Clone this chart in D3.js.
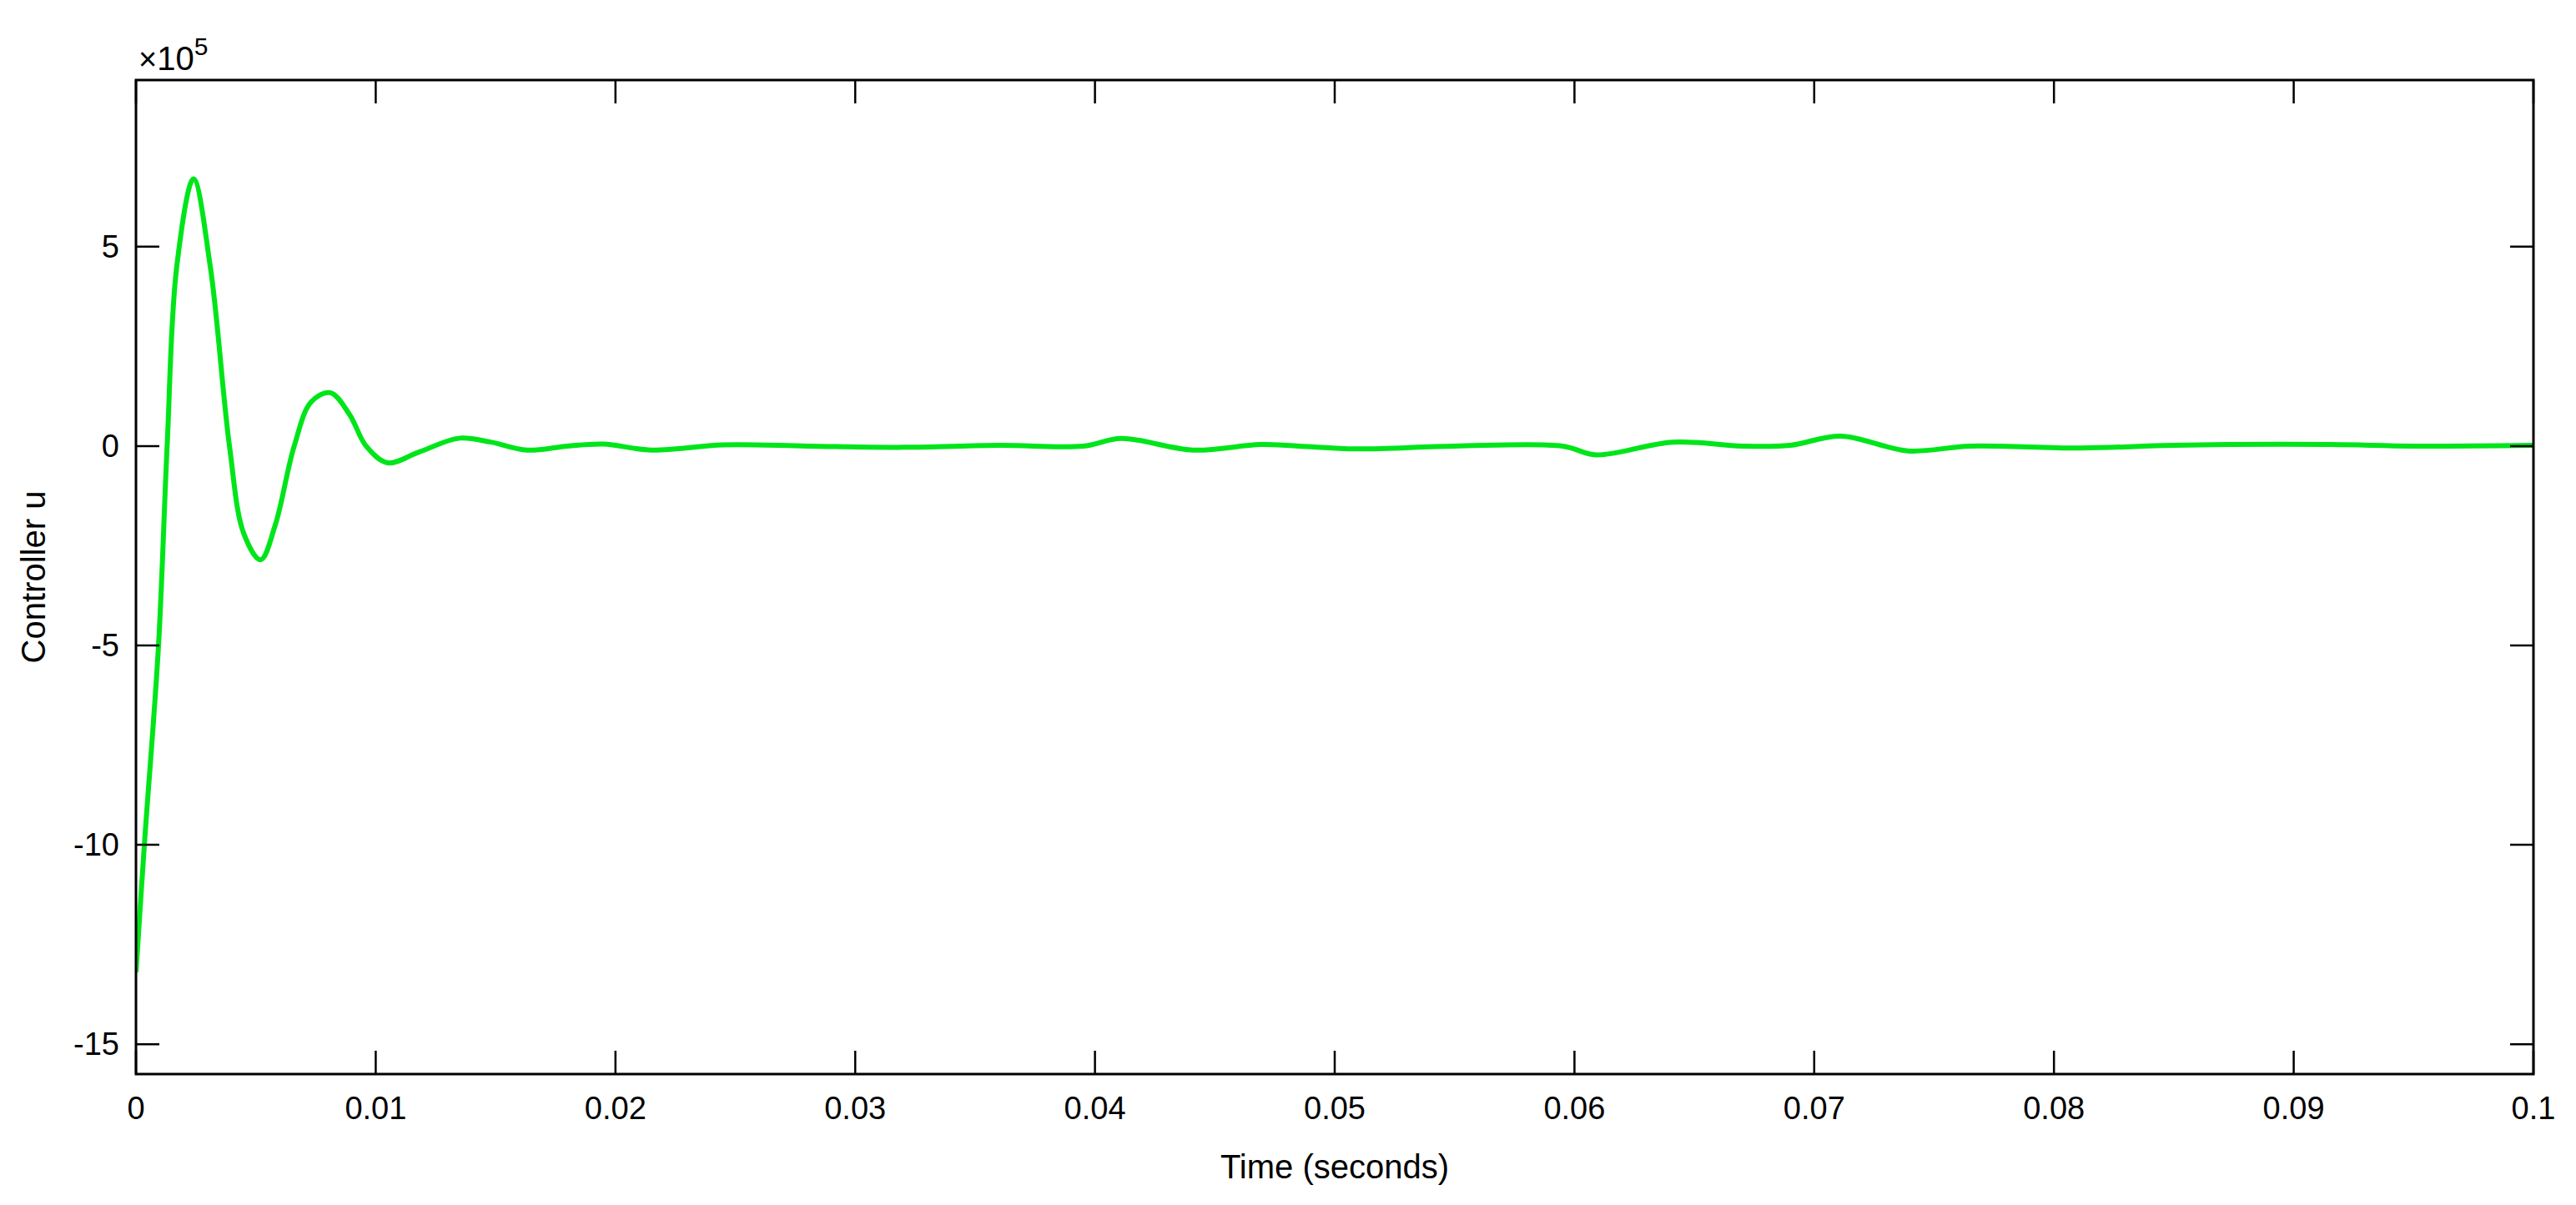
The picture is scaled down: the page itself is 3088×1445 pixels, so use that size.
<!DOCTYPE html>
<html>
<head>
<meta charset="utf-8">
<script src="https://cdn.jsdelivr.net/npm/d3@7"></script>
<style>
  body { margin: 0; background: #fff; }
  text { font-family: "Liberation Sans", Arial, sans-serif; fill: #000; }
</style>
</head>
<body>
<script>
// time in seconds, controller output in units of 1e5
var timeVals = [0, 0.00035, 0.00094, 0.0013, 0.0017, 0.0024, 0.0031, 0.0039, 0.0045, 0.0052,
  0.0058, 0.0066, 0.0073, 0.0081, 0.0089, 0.0096, 0.0105, 0.0118, 0.0135, 0.0148,
  0.0163, 0.018, 0.0195, 0.0215, 0.0245, 0.028, 0.032, 0.036, 0.0395, 0.0411,
  0.0441, 0.0469, 0.0485, 0.0509, 0.055, 0.0595, 0.0609, 0.0641, 0.067, 0.069,
  0.0711, 0.0739, 0.0765, 0.0811, 0.085, 0.0913, 0.095, 0.1];
var uVals = [-13.2, -10, -5, 0, 4.5, 6.7, 4.5, 0, -2.2, -2.85,
  -2.0, 0, 1.1, 1.34, 0.8, 0, -0.42, -0.15, 0.2, 0.1,
  -0.1, 0, 0.05, -0.1, 0.03, 0, -0.03, 0.02, 0, 0.19,
  -0.1, 0.04, 0, -0.07, 0, 0, -0.22, 0.1, 0, 0.02,
  0.25, -0.12, 0, -0.05, 0.02, 0.04, 0, 0.02];
var xTicks = [0, 0.01, 0.02, 0.03, 0.04, 0.05, 0.06, 0.07, 0.08, 0.09, 0.1];
var yTicks = [-15, -10, -5, 0, 5];

var W = 3088, H = 1445;
var pLeft = 163, pRight = 3037, pTop = 96, pBottom = 1288;
var tickLen = 28;

var x = d3.scaleLinear().domain([0, 0.1]).range([pLeft, pRight]);
var y = d3.scaleLinear().domain([-15.75, 9.18]).range([pBottom, pTop]);

var svg = d3.select("body").append("svg")
  .attr("width", W).attr("height", H);

var data = timeVals.map(function(t, i){ return {t: t, u: uVals[i]}; });

// clip the line to the axes box
svg.append("clipPath").attr("id", "box")
  .append("rect").attr("x", pLeft).attr("y", pTop)
  .attr("width", pRight - pLeft).attr("height", pBottom - pTop);

var line = d3.line()
  .x(function(d){ return x(d.t); })
  .y(function(d){ return y(d.u); })
  .curve(d3.curveCatmullRom.alpha(0.5));

svg.append("path")
  .datum(data)
  .attr("clip-path", "url(#box)")
  .attr("d", line)
  .attr("fill", "none")
  .attr("stroke", "#00e51a")
  .attr("stroke-width", 6)
  .attr("stroke-linejoin", "round");

// axes: ticks on all four sides, inward
var g = svg.append("g");
g.selectAll(".xt").data(xTicks).enter().append("path")
  .attr("d", function(d){ var px = x(d);
    return "M" + px + "," + pBottom + "V" + (pBottom - tickLen) + "M" + px + "," + pTop + "V" + (pTop + tickLen); })
  .attr("stroke", "#000").attr("stroke-width", 2.5);
g.selectAll(".yt").data(yTicks).enter().append("path")
  .attr("d", function(d){ var py = y(d);
    return "M" + pLeft + "," + py + "H" + (pLeft + tickLen) + "M" + pRight + "," + py + "H" + (pRight - tickLen); })
  .attr("stroke", "#000").attr("stroke-width", 2.5);

g.append("rect")
  .attr("x", pLeft).attr("y", pTop)
  .attr("width", pRight - pLeft).attr("height", pBottom - pTop)
  .attr("fill", "none").attr("stroke", "#000").attr("stroke-width", 3);

g.selectAll(".xl").data(xTicks).enter().append("text")
  .attr("x", function(d){ return x(d); })
  .attr("y", 1342)
  .attr("text-anchor", "middle")
  .attr("font-size", 38)
  .text(function(d){ return d3.format("~g")(d); });

g.selectAll(".yl").data(yTicks).enter().append("text")
  .attr("x", 143)
  .attr("y", function(d){ return y(d) + 13; })
  .attr("text-anchor", "end")
  .attr("font-size", 38)
  .text(function(d){ return d; });

// exponent label
var ex = svg.append("text").attr("x", 166).attr("y", 84).attr("font-size", 38);
ex.append("tspan").text("\u00d7");
ex.append("tspan").text("10").attr("font-size", 40);
ex.append("tspan").text("5").attr("font-size", 30).attr("dy", -18);

svg.append("text")
  .attr("x", (pLeft + pRight) / 2).attr("y", 1413)
  .attr("text-anchor", "middle").attr("font-size", 40)
  .text("Time (seconds)");

svg.append("text")
  .attr("transform", "translate(54," + ((pTop + pBottom) / 2) + ") rotate(-90)")
  .attr("text-anchor", "middle").attr("font-size", 40)
  .text("Controller u");
</script>
</body>
</html>
